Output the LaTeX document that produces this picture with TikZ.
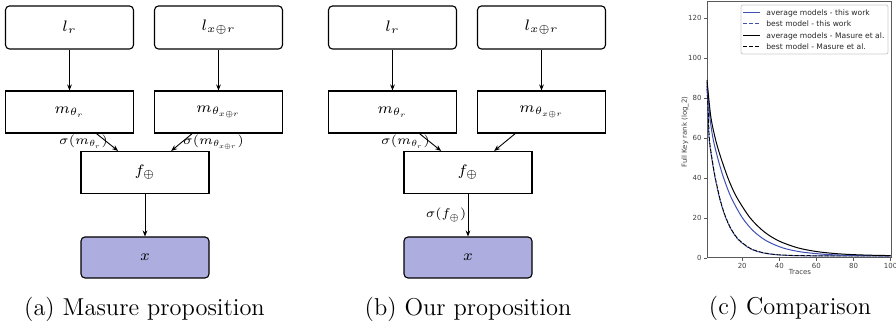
\RequirePackage{fix-cm}
\documentclass[tikz,border=0pt]{standalone}
\usepackage{fontspec}
\newfontfamily\dejavu{DejaVu Sans}
\usetikzlibrary{arrows.meta}
\definecolor{xfill}{RGB}{173,173,224}
\definecolor{pblue}{RGB}{63,81,181}
\definecolor{axcol}{RGB}{90,90,90}
\begin{document}
\begin{tikzpicture}[x=0.5pt,y=-0.5pt,
  boxtxt/.style={font=\fontsize{7.6}{9}\selectfont},
  rbox/.style={draw, rounded corners=2pt, minimum width=64pt, minimum height=21.5pt, inner sep=0pt, line width=0.55pt, boxtxt},
  sbox/.style={draw, minimum width=64pt, minimum height=21pt, inner sep=0pt, line width=0.55pt, boxtxt},
  xbox/.style={rbox, fill=xfill, minimum height=20.5pt},
  conn/.style={-{Stealth[length=3pt,width=2.4pt]}, line width=0.45pt},
  lbl/.style={inner sep=0pt, font=\fontsize{6.4}{7.5}\selectfont},
  captxt/.style={inner sep=0pt, anchor=base, font=\fontsize{12.2}{14}\selectfont},
  ticklbl/.style={inner sep=0pt, font=\dejavu\fontsize{3.5}{4}\selectfont, text=black!75},
  legtxt/.style={inner sep=0pt, anchor=west, font=\dejavu\fontsize{3.8}{4.4}\selectfont, text=black!85},
  crv/.style={line width=0.5pt},
  dsh/.style={crv, dash pattern=on 2pt off 1pt}
]
\useasboundingbox (0,0) rectangle (896,324);

% ---------- (a) ----------
\node[rbox] (alr) at (69.5,27.5) {$l_r$};
\node[rbox] (alx) at (218.5,27.5) {$l_{x\oplus r}$};
\node[sbox] (amr) at (69.5,112) {$m_{\theta_r}$};
\node[sbox] (amx) at (218.5,112) {$m_{\theta_{x\oplus r}}$};
\node[sbox] (af) at (145,172.5) {$f_{\oplus}$};
\node[xbox] (ax) at (145,257.5) {$x$};
\draw[conn] (alr) -- (amr);
\draw[conn] (alx) -- (amx);
\draw[conn] (amr) -- (af);
\draw[conn] (amx) -- (af);
\draw[conn] (af) -- (ax);
\node[lbl] (alab1) at (83.5,142) {$\sigma(m_{\theta_r})$};
\node[lbl] (alab2) at (213.5,142) {$\sigma(m_{\theta_{x\oplus r}})$};
\node[captxt] (acap) at (144.5,316) {(a) Masure proposition};

% ---------- (b) ----------
\node[rbox] (blr) at (392.5,27.5) {$l_r$};
\node[rbox] (blx) at (541.5,27.5) {$l_{x\oplus r}$};
\node[sbox] (bmr) at (392.5,112) {$m_{\theta_r}$};
\node[sbox] (bmx) at (541.5,112) {$m_{\theta_{x\oplus r}}$};
\node[sbox] (bf) at (468,172.5) {$f_{\oplus}$};
\node[xbox] (bx) at (468,257.5) {$x$};
\draw[conn] (blr) -- (bmr);
\draw[conn] (blx) -- (bmx);
\draw[conn] (bmr) -- (bf);
\draw[conn] (bmx) -- (bf);
\draw[conn] (bf) -- (bx);
\node[lbl] (blab1) at (405.5,142) {$\sigma(m_{\theta_r})$};
\node[lbl] (blab2) at (446,215) {$\sigma(f_{\oplus})$};
\node[captxt] (bcap) at (468,316) {(b) Our proposition};

% ---------- (c) plot ----------
\draw[axcol, line width=0.5pt] (707,2) rectangle (891.5,258);
\foreach \v in {0,20,...,120}{
  \draw[axcol, line width=0.4pt] (707,258-2*\v) -- (703.5,258-2*\v);
  \node[ticklbl, anchor=east] at (702,258-2*\v) {\v};
}
\foreach \v in {20,40,...,100}{
  \draw[axcol, line width=0.4pt] ({707+(\v-1)*1.855},258) -- ({707+(\v-1)*1.855},261.5);
  \node[ticklbl, anchor=north] at ({707+(\v-1)*1.855},263) {\v};
}
\node[ticklbl, rotate=90] (ylab) at (685,132) {Full Key rank (log\_2)};
\node[ticklbl, anchor=north] (xlab) at (800,269) {Traces};

\begin{scope}[shift={(705.145,258)}, xscale=1.855, yscale=-2]
  \draw[pblue, dsh] plot[smooth, tension=0.5] coordinates {(1,86) (1.6,72) (2.2,59) (4,47.3) (5.4,39.9) (8,29.1) (10.8,20.8) (14,14.3) (18,9.05) (24,4.8) (30,2.8) (38,1.66) (50,1.15) (70,1.02) (100,1.0)};
  \draw[black, dsh, dash phase=1.5pt] plot[smooth, tension=0.5] coordinates {(1,86) (1.7,72) (2.3,59) (4.1,47.3) (5.5,39.9) (8.1,29.1) (10.9,20.8) (14.1,14.3) (18.2,9.05) (24.3,4.8) (30.5,2.8) (38.5,1.66) (50,1.2) (70,1.05) (100,1.0)};
  \draw[pblue, crv] plot[smooth, tension=0.5] coordinates {(1,88) (2.6,70) (4.4,59) (7,49.2) (9.8,40.5) (14,30.3) (20,20.2) (26,13.5) (33,8.6) (42,5.0) (52,3.0) (65,1.8) (80,1.27) (100,1.07)};
  \draw[black, crv] plot[smooth, tension=0.5] coordinates {(1,89) (3,71) (5.4,60) (8,51.5) (12.5,39.5) (17,30.4) (24.3,20) (32,12.96) (40,8.4) (50,5.06) (60,3.23) (70,2.22) (80,1.67) (90,1.37) (100,1.2)};
\end{scope}

% legend
\draw[black!20, fill=white, line width=0.4pt, rounded corners=1pt] (741,5) rectangle (888,54);
\draw[pblue, crv] (743,13) -- (760,13);
\node[legtxt] (lg1) at (766,13) {average models - this work};
\draw[pblue, dsh] (743,24) -- (760,24);
\node[legtxt] (lg2) at (766,24) {best model - this work};
\draw[black, crv] (743,36) -- (760,36);
\node[legtxt] (lg3) at (766,36) {average models - Masure et al.};
\draw[black, dsh] (743,47) -- (760,47);
\node[legtxt] (lg4) at (766,47) {best model - Masure et al.};

\node[captxt] (ccap) at (790,315) {(c) Comparison};
\end{tikzpicture}
\end{document}
